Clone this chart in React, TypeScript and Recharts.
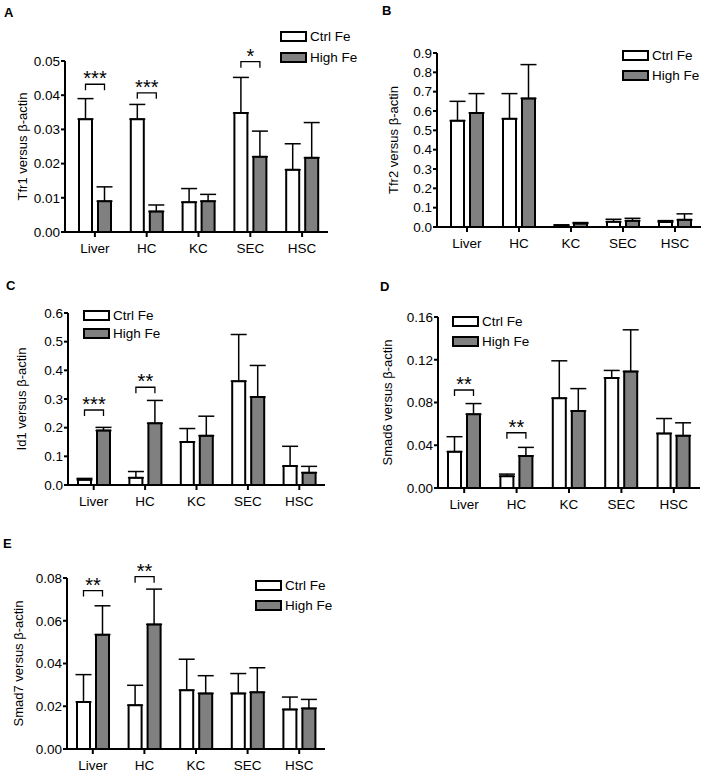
import React from "react";
import { BarChart, Bar, XAxis, YAxis, ErrorBar, LabelList } from "recharts";

const FONT = "'Liberation Sans', Arial, sans-serif";
const GREY = "#808080";
const BAR_SIZE = 13;
const BAR_GAP = 6;

const categories = ["Liver", "HC", "KC", "SEC", "HSC"];

// A - Tfr1
const tfr1Ctrl = [0.033, 0.033, 0.0087, 0.0348, 0.0182];
const tfr1CtrlSem = [0.006, 0.0043, 0.004, 0.0104, 0.0076];
const tfr1High = [0.009, 0.006, 0.009, 0.022, 0.0217];
const tfr1HighSem = [0.0042, 0.0019, 0.002, 0.0075, 0.0103];
const tfr1Sig = ["***", "***", "", "*", ""];
const tfr1SigLevel = [0.0432, 0.0407, 0, 0.0498, 0];
const tfr1Ticks = [0, 0.01, 0.02, 0.03, 0.04, 0.05];

// B - Tfr2
const tfr2Ctrl = [0.55, 0.56, 0.008, 0.027, 0.026];
const tfr2CtrlSem = [0.1, 0.13, 0.003, 0.013, 0.007];
const tfr2High = [0.59, 0.665, 0.018, 0.032, 0.037];
const tfr2HighSem = [0.1, 0.175, 0.005, 0.013, 0.031];
const tfr2Sig = ["", "", "", "", ""];
const tfr2SigLevel = [0, 0, 0, 0, 0];
const tfr2Ticks = [0, 0.1, 0.2, 0.3, 0.4, 0.5, 0.6, 0.7, 0.8, 0.9];

// C - Id1
const id1Ctrl = [0.018, 0.025, 0.15, 0.362, 0.066];
const id1CtrlSem = [0.005, 0.022, 0.047, 0.163, 0.069];
const id1High = [0.19, 0.215, 0.172, 0.307, 0.043];
const id1HighSem = [0.011, 0.08, 0.068, 0.11, 0.022];
const id1Sig = ["***", "**", "", "", ""];
const id1SigLevel = [0.2616, 0.341, 0, 0, 0];
const id1Ticks = [0, 0.1, 0.2, 0.3, 0.4, 0.5, 0.6];

// D - Smad6
const smad6Ctrl = [0.034, 0.011, 0.084, 0.103, 0.051];
const smad6CtrlSem = [0.014, 0.002, 0.035, 0.007, 0.014];
const smad6High = [0.069, 0.03, 0.072, 0.109, 0.049];
const smad6HighSem = [0.01, 0.008, 0.021, 0.039, 0.012];
const smad6Sig = ["**", "**", "", "", ""];
const smad6SigLevel = [0.0917, 0.0517, 0, 0, 0];
const smad6Ticks = [0, 0.04, 0.08, 0.12, 0.16];

// E - Smad7
const smad7Ctrl = [0.022, 0.0205, 0.0275, 0.026, 0.0185];
const smad7CtrlSem = [0.0128, 0.0093, 0.0145, 0.0093, 0.0058];
const smad7High = [0.0535, 0.0583, 0.026, 0.0265, 0.019];
const smad7HighSem = [0.0135, 0.0165, 0.0083, 0.0115, 0.0042];
const smad7Sig = ["**", "**", "", "", ""];
const smad7SigLevel = [0.0741, 0.0806, 0, 0, 0];
const smad7Ticks = [0, 0.02, 0.04, 0.06, 0.08];

function buildRows(ctrl: number[], ctrlSem: number[], high: number[], highSem: number[]) {
  return categories.map((name, i) => ({
    name,
    ctrl: ctrl[i],
    ctrlErr: [0, ctrlSem[i]],
    high: high[i],
    highErr: [0, highSem[i]],
  }));
}

function sigContent(sig: string[], levels: number[]) {
  return (props: any) => {
    const { index, value } = props;
    if (!sig[index]) return null;
    const vb = props.viewBox ?? props;
    const { x, y, width, height } = vb;
    const base = y + height;
    const by = base - (levels[index] * height) / value;
    const right = x + width / 2;
    const left = right - (width + BAR_GAP);
    return (
      <g>
        <path
          d={`M${left},${by + 6}V${by}H${right}V${by + 6}`}
          fill="none"
          stroke="#000"
          strokeWidth={1.3}
        />
        <text
          x={(left + right) / 2}
          y={by + 1}
          textAnchor="middle"
          fontSize={20}
          fontFamily={FONT}
          fill="#000"
        >
          {sig[index]}
        </text>
      </g>
    );
  };
}

function LegendBox({ left, top, rowH }: { left: number; top: number; rowH: number }) {
  const items = [
    { label: "Ctrl Fe", fill: "#fff" },
    { label: "High Fe", fill: GREY },
  ];
  return (
    <div
      style={{
        position: "absolute",
        left,
        top,
        fontFamily: FONT,
        fontSize: 13.5,
        whiteSpace: "nowrap",
      }}
    >
      {items.map((it) => (
        <div key={it.label} style={{ display: "flex", alignItems: "center", height: rowH }}>
          <div
            style={{
              width: 23,
              height: 7,
              border: "2px solid #000",
              background: it.fill,
              marginRight: 3,
              flexShrink: 0,
            }}
          />
          <span>{it.label}</span>
        </div>
      ))}
    </div>
  );
}

type PanelProps = {
  letter: string;
  letterPos: [number, number];
  yLabel: string;
  yLabelDx: number;
  ticks: number[];
  decimals: number;
  rows: any[];
  sig: string[];
  sigLevel: number[];
  left: number;
  top: number;
  width: number;
  height: number;
  plot: { left: number; right: number; top: number; bottom: number };
  padLeft: number;
  legend: { left: number; top: number; rowH: number };
};

function Panel(p: PanelProps) {
  const axisStroke = { stroke: "#000", strokeWidth: 2 };
  return (
    <div style={{ position: "absolute", left: p.left, top: p.top, width: p.width, height: p.height }}>
      <div
        style={{
          position: "absolute",
          left: p.letterPos[0],
          top: p.letterPos[1],
          fontFamily: FONT,
          fontWeight: "bold",
          fontSize: 13,
          lineHeight: "13px",
        }}
      >
        {p.letter}
      </div>
      <BarChart
        width={p.width}
        height={p.height}
        data={p.rows}
        margin={{ top: p.plot.top, right: p.plot.right, bottom: 0, left: 0 }}
        barSize={BAR_SIZE}
        barGap={BAR_GAP}
      >
        <XAxis
          dataKey="name"
          height={p.plot.bottom}
          padding={{ left: p.padLeft, right: 0 }}
          axisLine={axisStroke}
          tickLine={axisStroke}
          tickSize={5}
          tickMargin={6}
          tick={{ fill: "#000", fontSize: 13.5, fontFamily: FONT }}
          interval={0}
        />
        <YAxis
          width={p.plot.left}
          domain={[p.ticks[0], p.ticks[p.ticks.length - 1]]}
          ticks={p.ticks}
          interval={0}
          tickFormatter={(v: number) => v.toFixed(p.decimals)}
          axisLine={axisStroke}
          tickLine={axisStroke}
          tickSize={4}
          tickMargin={1}
          tick={{ fill: "#000", fontSize: 13.5, fontFamily: FONT }}
          label={{
            content: (lp: any) => {
              const vb = lp.viewBox;
              const cx = vb.x + vb.width - p.yLabelDx;
              const cy = vb.y + vb.height / 2;
              return (
                <text
                  x={cx}
                  y={cy}
                  transform={`rotate(-90 ${cx} ${cy})`}
                  textAnchor="middle"
                  dominantBaseline="central"
                  fontSize={13}
                  fontFamily={FONT}
                  fill="#000"
                >
                  {p.yLabel}
                </text>
              );
            },
          }}
        />
        <Bar dataKey="ctrl" fill="#fff" stroke="#000" strokeWidth={2} isAnimationActive={false}>
          <ErrorBar dataKey="ctrlErr" width={8} stroke="#000" strokeWidth={1.5} />
        </Bar>
        <Bar dataKey="high" fill={GREY} stroke="#000" strokeWidth={2} isAnimationActive={false}>
          <ErrorBar dataKey="highErr" width={8} stroke="#000" strokeWidth={1.5} />
          <LabelList dataKey="high" content={sigContent(p.sig, p.sigLevel)} />
        </Bar>
      </BarChart>
      <LegendBox {...p.legend} />
    </div>
  );
}

export default function App() {
  return (
    <div style={{ position: "absolute", left: 0, top: 0, width: 704, height: 775, background: "#fff" }}>
      <Panel
        letter="A"
        letterPos={[4, 6]}
        yLabel="Tfr1 versus β-actin"
        yLabelDx={43}
        ticks={tfr1Ticks}
        decimals={2}
        rows={buildRows(tfr1Ctrl, tfr1CtrlSem, tfr1High, tfr1HighSem)}
        sig={tfr1Sig}
        sigLevel={tfr1SigLevel}
        left={0}
        top={0}
        width={345}
        height={270}
        plot={{ left: 65, right: 17, top: 61, bottom: 38 }}
        padLeft={4}
        legend={{ left: 280, top: 26, rowH: 21 }}
      />
      <Panel
        letter="B"
        letterPos={[32, 4]}
        yLabel="Tfr2 versus β-actin"
        yLabelDx={44}
        ticks={tfr2Ticks}
        decimals={1}
        rows={buildRows(tfr2Ctrl, tfr2CtrlSem, tfr2High, tfr2HighSem)}
        sig={tfr2Sig}
        sigLevel={tfr2SigLevel}
        left={350}
        top={0}
        width={354}
        height={270}
        plot={{ left: 87, right: 3, top: 53, bottom: 43 }}
        padLeft={4}
        legend={{ left: 272, top: 45, rowH: 20 }}
      />
      <Panel
        letter="C"
        letterPos={[6, 9]}
        yLabel="Id1 versus β-actin"
        yLabelDx={47}
        ticks={id1Ticks}
        decimals={1}
        rows={buildRows(id1Ctrl, id1CtrlSem, id1High, id1HighSem)}
        sig={id1Sig}
        sigLevel={id1SigLevel}
        left={0}
        top={270}
        width={345}
        height={260}
        plot={{ left: 68, right: 20, top: 43, bottom: 45 }}
        padLeft={0}
        legend={{ left: 83, top: 36, rowH: 18 }}
      />
      <Panel
        letter="D"
        letterPos={[30, 10]}
        yLabel="Smad6 versus β-actin"
        yLabelDx={51}
        ticks={smad6Ticks}
        decimals={2}
        rows={buildRows(smad6Ctrl, smad6CtrlSem, smad6High, smad6HighSem)}
        sig={smad6Sig}
        sigLevel={smad6SigLevel}
        left={350}
        top={270}
        width={354}
        height={260}
        plot={{ left: 88, right: 4, top: 47, bottom: 42 }}
        padLeft={0}
        legend={{ left: 102, top: 41, rowH: 20 }}
      />
      <Panel
        letter="E"
        letterPos={[3, 7]}
        yLabel="Smad7 versus β-actin"
        yLabelDx={49}
        ticks={smad7Ticks}
        decimals={2}
        rows={buildRows(smad7Ctrl, smad7CtrlSem, smad7High, smad7HighSem)}
        sig={smad7Sig}
        sigLevel={smad7SigLevel}
        left={0}
        top={530}
        width={345}
        height={245}
        plot={{ left: 67, right: 20, top: 48, bottom: 26 }}
        padLeft={0}
        legend={{ left: 255, top: 45, rowH: 20 }}
      />
    </div>
  );
}
